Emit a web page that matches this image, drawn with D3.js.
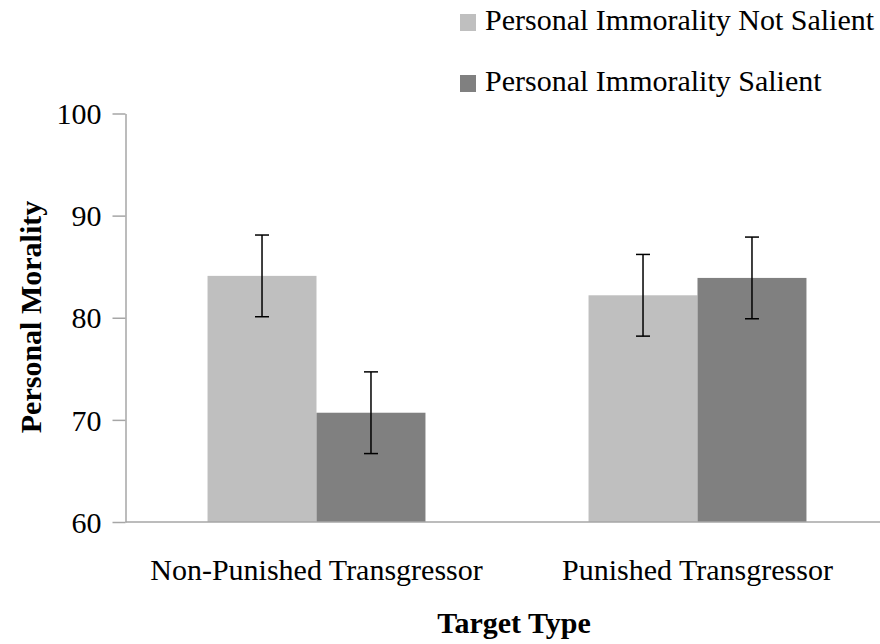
<!DOCTYPE html>
<html>
<head>
<meta charset="utf-8">
<script src="https://cdn.jsdelivr.net/npm/d3@7"></script>
<style>
body{margin:0;background:#fff;}
svg text{font-family:"Liberation Serif","Times New Roman",serif;fill:#000;}
</style>
</head>
<body>
<svg width="880" height="644"></svg>
<script>
var categories=["Non-Punished Transgressor","Punished Transgressor"];
var seriesNames=["Personal Immorality Not Salient","Personal Immorality Salient"];
var notSalient=[84.1,82.2];
var salient=[70.7,83.9];
var notSalientErr=[4.0,4.0];
var salientErr=[4.0,4.0];
var yTicks=[60,70,80,90,100];

var colors=["#bfbfbf","#808080"];

var svg=d3.select("svg");

var plotleft=125.5, plotbottom=522, plottop=113.5;

var scalex=d3.scaleBand()
	.domain(categories)
	.range([126,888])
	.paddingInner(0.428)
	.paddingOuter(0.214);

var scalesub=d3.scaleBand()
	.domain(seriesNames)
	.range([0,scalex.bandwidth()]);

var scaley=d3.scaleLinear()
	.domain([60,100])
	.range([plotbottom,plottop]);

var rows=[];
categories.forEach(function(c,i){
	rows.push({cat:c,s:seriesNames[0],v:notSalient[i],e:notSalientErr[i],k:0});
	rows.push({cat:c,s:seriesNames[1],v:salient[i],e:salientErr[i],k:1});
});

// bars
svg.append("g")
	.selectAll("rect")
	.data(rows)
	.enter()
	.append("rect")
	.attr("x",d=>scalex(d.cat)+scalesub(d.s))
	.attr("y",d=>scaley(d.v))
	.attr("width",scalesub.bandwidth())
	.attr("height",d=>plotbottom-scaley(d.v))
	.attr("fill",d=>colors[d.k]);

// y axis
var yaxis=d3.axisLeft(scaley)
	.tickValues(yTicks)
	.tickSize(13)
	.tickSizeOuter(0)
	.tickPadding(11);

var gy=svg.append("g")
	.attr("transform","translate("+plotleft+",0)")
	.call(yaxis);
gy.select(".domain").attr("stroke","#a6a6a6").attr("stroke-width",1.5);
gy.selectAll(".tick line").attr("stroke","#a6a6a6").attr("stroke-width",1.5);
gy.selectAll(".tick text").style("font-size","30px").attr("dy","0.34em");

// x axis
var xaxis=d3.axisBottom(scalex)
	.tickSize(0)
	.tickSizeOuter(0)
	.tickPadding(37);

var gx=svg.append("g")
	.attr("transform","translate(0,"+plotbottom+")")
	.call(xaxis);
gx.select(".domain").attr("d","M"+plotleft+",0H880").attr("stroke","#a6a6a6").attr("stroke-width",1.5);
gx.selectAll(".tick text").style("font-size","30px");

// error bars
var eb=svg.append("g")
	.selectAll("g")
	.data(rows)
	.enter()
	.append("g")
	.attr("stroke","#000")
	.attr("stroke-width",1.5);

function cx(d){return scalex(d.cat)+scalesub(d.s)+scalesub.bandwidth()/2;}

eb.append("line")
	.attr("x1",cx).attr("x2",cx)
	.attr("y1",d=>scaley(d.v+d.e))
	.attr("y2",d=>scaley(d.v-d.e));
eb.append("line")
	.attr("x1",d=>cx(d)-7).attr("x2",d=>cx(d)+7)
	.attr("y1",d=>scaley(d.v+d.e)).attr("y2",d=>scaley(d.v+d.e));
eb.append("line")
	.attr("x1",d=>cx(d)-7).attr("x2",d=>cx(d)+7)
	.attr("y1",d=>scaley(d.v-d.e)).attr("y2",d=>scaley(d.v-d.e));

// axis titles
svg.append("text")
	.attr("x",514)
	.attr("y",633)
	.style("text-anchor","middle")
	.style("font-size","30px")
	.style("font-weight","bold")
	.text("Target Type");

svg.append("text")
	.attr("transform","translate(41,317) rotate(-90)")
	.style("text-anchor","middle")
	.style("font-size","30px")
	.style("font-weight","bold")
	.text("Personal Morality");

// legend
var legend=svg.append("g")
	.selectAll("g")
	.data(seriesNames)
	.enter()
	.append("g")
	.attr("transform",(d,i)=>"translate(460,"+(14+i*61)+")");

legend.append("rect")
	.attr("width",16)
	.attr("height",17)
	.attr("fill",(d,i)=>colors[i]);

legend.append("text")
	.attr("x",25)
	.attr("y",16)
	.style("font-size","30px")
	.text(d=>d);
</script>
</body>
</html>
